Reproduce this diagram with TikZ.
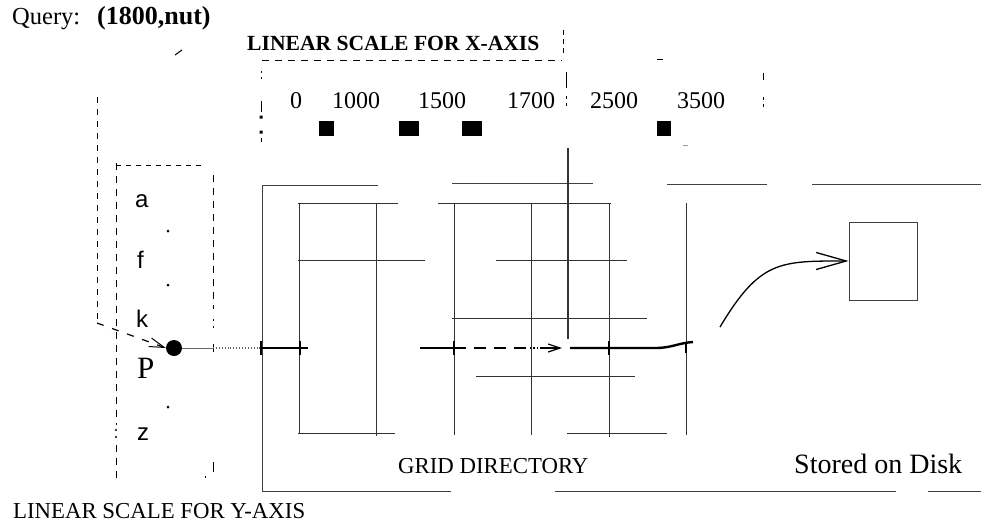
\documentclass[tikz,border=0pt]{standalone}
\usepackage{fontspec}
\setmainfont{Liberation Serif}
\setsansfont{Liberation Sans}
\usetikzlibrary{arrows.meta}

\begin{document}
\begin{tikzpicture}[
      x=1pt, y=-1pt,
      txt/.style   = {inner sep=0pt, anchor=base west, font=\fontsize{22.8}{26}\selectfont},
      num/.style   = {inner sep=0pt, anchor=base west, font=\fontsize{24}{28}\selectfont},
      ltr/.style   = {inner sep=0pt, anchor=base west, font=\sffamily\fontsize{24}{28}\selectfont},
      scl/.style   = {draw, line width=0.9pt, dash pattern=on 7pt off 6pt},
      grd/.style   = {draw, line width=0.9pt, black!80},
      edge/.style  = {draw, line width=0.8pt, black!75},
      qry/.style   = {draw, line width=2.4pt},
      thin/.style  = {draw, line width=0.9pt, black!60},
      barb/.style  = {-{Straight Barb[length=15pt, width=9pt, line width=1pt]}},
      blk/.style   = {fill=black},
      dotp/.style  = {circle, fill=black, inner sep=0pt, minimum size=3pt},
    ]
    \useasboundingbox (0,0) rectangle (981,522);

    %% ------------------------------------------------ query
    \node[txt, font=\fontsize{24.5}{28}\selectfont] (qlbl) at (12,24) {Query:};
    \node[txt, font=\bfseries\fontsize{26}{30}\selectfont] (qval) at (97,24) {(1800,nut)};
    \draw[line width=1pt] (175,55) -- (182,50);

    %% ------------------------------------------------ linear scale, x-axis
    \node[txt, font=\bfseries\fontsize{21.6}{26}\selectfont] (xlbl) at (247,50) {LINEAR SCALE FOR X-AXIS};
    \draw[scl] (262,60) -- (562,60);
    \draw[scl, dash pattern=on 5pt off 4pt] (563,30) -- (563,56);
    \draw[line width=1pt] (657,59) -- (663,59);
    \draw[line width=1pt] (261,71) -- (261,73) (261,77) -- (261,79) (261,101) -- (261,112)
                          (261,138) -- (261,142);
    \fill (259.5,115.5) rectangle (262.5,118.5) (259.5,130.5) rectangle (262.5,133.5);
    \draw[line width=1pt] (566,72) -- (566,88) (566,96) -- (566,99) (566,103) -- (566,106);
    \draw[line width=1pt] (763,73) -- (763,80) (763,97) -- (763,100) (763,104) -- (763,107);
    \draw[black!40, line width=1pt] (683,145) -- (688,145);
    \foreach \nm/\xx/\vv in {n0/290/0, n1/332/1000, n2/418/1500, n3/507/1700, n4/590/2500, n5/677/3500}
      \node[num] (\nm) at (\xx,108) {\vv};
    \fill[blk] (319,121) rectangle (334,136);
    \fill[blk] (399,121) rectangle (419,136);
    \fill[blk] (462,121) rectangle (482,136);
    \fill[blk] (657,121) rectangle (671,136);

    %% ------------------------------------------------ linear scale, y-axis
    \draw[scl] (116,163) -- (116,425);
    \draw[scl] (116,445) -- (116,478);
    \draw[scl, dash pattern=on 5pt off 5pt] (116,165) -- (203,165);
    \draw[scl] (213,175) -- (213,309);
    \draw[line width=1pt] (213,344) -- (213,352) (213,462) -- (213,472) (205,476) -- (205,478)
                          (213,319) -- (213,321) (213,326) -- (213,328);
    \fill (116,430) circle (1.2) (116,437) circle (1.2);
    \node[ltr] (ya) at (135,207) {a};
    \node[ltr] (yf) at (137,268) {f};
    \node[ltr] (yk) at (136,327) {k};
    \node[txt, font=\fontsize{31}{35}\selectfont] (yp) at (137,378) {P};
    \node[ltr] (yz) at (137,440) {z};
    \node[dotp] (d1) at (168,231) {};
    \node[dotp] (d2) at (168,285) {};
    \node[dotp] (d3) at (168,407) {};
    \node[txt] (ylbl) at (13,518) {LINEAR SCALE FOR Y-AXIS};

    %% ------------------------------------------------ grid directory
    \draw[edge] (262,185) -- (262,492);
    \draw[edge] (263,185) -- (378,185) (452,183) -- (593,183)
                (667,184) -- (767,184) (812,184) -- (981,184);
    \draw[edge] (262,491) -- (451,491) (555,491) -- (896,491) (928,491) -- (981,491);
    \foreach \xx/\yb in {299/433, 376/436, 454/435, 531/435, 609/437, 686/435}
      \draw[grd] (\xx,203) -- (\xx,\yb);
    \foreach \yy/\xa/\xb in {203/298/398, 203/438/611, 260/298/425, 260/496/627,
                             318/452/647, 376/476/635, 433/298/395, 433/567/667}
      \draw[grd] (\xa,\yy) -- (\xb,\yy);
    \draw[grd, line width=1.1pt] (568,148) -- (568,339);
    \node[txt] (gdir) at (398,473) {GRID DIRECTORY};

    %% ------------------------------------------------ stored on disk
    \node[draw, line width=0.9pt, black!75, minimum width=68pt, minimum height=78pt,
          inner sep=0pt] (page) at (883,261) {};
    \node[txt, font=\fontsize{28}{32}\selectfont] (disk) at (794,473) {Stored on Disk};

    %% ------------------------------------------------ query path
    \node[circle, fill=black, minimum size=16pt, inner sep=0pt] (qdot) at (174,348) {};
    \coordinate (qtop) at (97,97);
    \coordinate (qbend) at (97,323);
    \draw[scl, dash pattern=on 6pt off 6pt] (qtop) -- (qbend);
    \draw[dash pattern=on 7pt off 9pt, line width=1.2pt, barb] (qbend) -- (qdot.west);
    \coordinate (c0) at (213,348);
    \coordinate (c1) at (261,348);
    \draw[thin] (qdot.east) -- (c0);
    \draw[thin, dotted, line width=1.4pt] (c0) -- (c1);
    \draw[qry] (c1) -- (308,348);
    \draw[qry] (420,348) -- (454,348);
    \draw[line width=1.6pt, dash pattern=on 12pt off 8pt] (454,348) -- (530,348);
    \draw[line width=1.4pt, dotted] (530,348) -- (546,348);
    \draw[line width=1.2pt, -{Straight Barb[length=12pt, width=8pt]}] (540,348) -- (562,348);
    \draw[qry] (570,348) -- (655,348) .. controls (672,348) and (678,343) .. (693,342);
    %% ticks where the path crosses a cell border
    \foreach \xx in {261, 300, 454, 609}
      \draw[line width=2.6pt] (\xx,341) -- (\xx,355);
    \draw[line width=2.6pt] (686,342) -- (686,353);

    %% ------------------------------------------------ to the page
    \coordinate (cs) at (720,327);
    \draw[line width=1.3pt, -{Straight Barb[length=30pt, width=17pt, line width=1.3pt]}]
      (cs) .. controls (760,260) and (780,261) .. (page.west);
\end{tikzpicture}
\end{document}
